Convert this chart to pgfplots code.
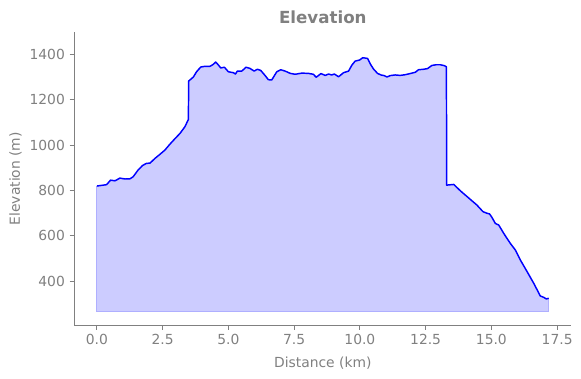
\documentclass[border=0pt]{standalone}
\usepackage{pgfplots}
\pgfplotsset{compat=1.18}
\usepackage{pgfplotstable}
\usepgfplotslibrary{fillbetween}
\usepackage{fontspec}
\setmainfont{DejaVu Sans}
\definecolor{txtgray}{RGB}{128,128,128}
\definecolor{fillblue}{RGB}{204,204,255}
\definecolor{edgeblue}{RGB}{175,175,255}
\pgfplotstableread{
x y
0.00 819
0.37 825
0.52 845
0.69 842
0.875 854
1.07 850
1.26 851
1.38 860
1.57 890
1.74 910
1.89 919
2.02 920
2.21 941
2.40 959
2.59 978
2.78 1004
2.97 1028
3.16 1051
3.35 1081
3.48 1113
3.49 1282
3.67 1300
3.79 1323
3.95 1344
4.11 1347
4.30 1347
4.43 1356
4.52 1366
4.62 1353
4.71 1340
4.85 1343
5.00 1323
5.19 1319
5.27 1313
5.34 1326
5.51 1326
5.67 1343
5.82 1338
5.98 1326
6.10 1334
6.23 1329
6.40 1306
6.52 1288
6.65 1287
6.84 1323
6.99 1332
7.16 1326
7.35 1316
7.54 1312
7.79 1317
8.04 1316
8.23 1312
8.34 1299
8.52 1315
8.68 1307
8.81 1313
8.93 1309
9.03 1313
9.19 1301
9.38 1319
9.57 1326
9.70 1353
9.82 1370
9.99 1375
10.11 1385
10.29 1382
10.42 1353
10.52 1335
10.67 1316
10.80 1309
10.93 1306
11.03 1300
11.15 1306
11.34 1309
11.53 1307
11.72 1310
11.91 1315
12.11 1321
12.23 1332
12.42 1334
12.57 1337
12.74 1351
12.90 1354
13.06 1354
13.21 1350
13.29 1345
13.30 823
13.57 826
13.82 798
14.20 760
14.45 735
14.68 706
14.83 699
14.93 696
15.02 681
15.15 654
15.28 647
15.47 610
15.72 566
15.91 537
16.10 493
16.36 441
16.61 390
16.86 334
16.99 328
17.09 321
17.18 324
}\prof
\begin{document}
\begin{tikzpicture}
\begin{axis}[
  at={(55.7pt,39.75pt)}, anchor=south west,
  scale only axis, width=372.8pt, height=219.5pt,
  xmin=-0.859, xmax=18.04, ymin=206, ymax=1497,
  axis x line*=bottom, axis y line*=left,
  axis line style={txtgray, line width=0.6pt, -},
  tick style={txtgray, line width=0.6pt},
  tick align=outside, major tick length=3.5pt,
  xtick={0,2.5,...,17.5}, ytick={400,600,...,1400},
  xticklabel style={/pgf/number format/.cd, fixed, fixed zerofill, precision=1},
  /pgf/number format/assume math mode=true,
  /pgf/number format/set thousands separator={},
  ticklabel style={text=txtgray, font=\fontsize{10.4}{12}\selectfont},
  xlabel={Distance (km)}, ylabel={Elevation (m)},
  label style={text=txtgray, font=\fontsize{10.4}{12}\selectfont},
  xlabel style={yshift=-2.5pt},
  ylabel style={yshift=-1pt},
  title={Elevation},
  title style={text=txtgray, font=\bfseries\fontsize{12.5}{14}\selectfont, yshift=-3pt},
]
\addplot[name path=prof, draw=none, forget plot] table {\prof};
\addplot[name path=base, draw=edgeblue, line width=0.8pt, forget plot] coordinates {(0,264) (17.18,264)};
\addplot[fillblue] fill between[of=prof and base];
\addplot[edgeblue, line width=0.8pt] coordinates {(0,264) (0,819)};
\addplot[edgeblue, line width=0.8pt] coordinates {(17.18,264) (17.18,324)};
\addplot[blue, line width=1.1pt, line join=round] table {\prof};
\end{axis}
\pgfresetboundingbox
\path (0,0) rectangle (435.75pt,283.5pt);
\end{tikzpicture}
\end{document}
